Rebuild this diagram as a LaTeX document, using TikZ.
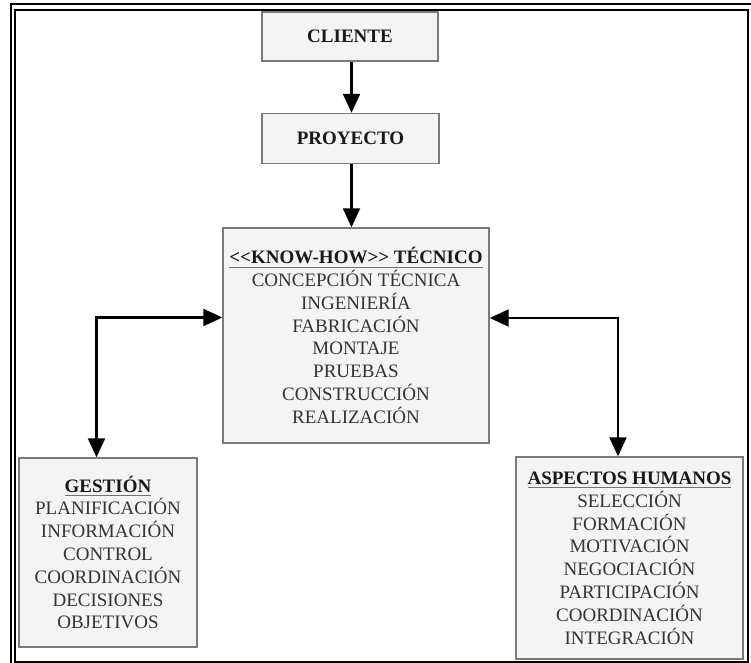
\documentclass[tikz,border=0pt]{standalone}
\usepackage{fontspec}
\setmainfont{Liberation Serif}
\usetikzlibrary{arrows.meta}
\definecolor{boxfill}{HTML}{F4F4F4}
\definecolor{boxedge}{HTML}{7A7A7A}
\definecolor{itemtext}{HTML}{333333}
% bold heading with a grey rule under it
\newcommand{\headline}[1]{\setbox0\hbox{\bfseries #1}\rlap{\color{black!55}\rule[-4bp]{\wd0}{1.1bp}}{\color{black!90}\box0}}
\newcommand{\boldlabel}[1]{{\color{black!90}\bfseries #1}}
\begin{document}
\begin{tikzpicture}[x=1bp,y=-1bp,
  box/.style={draw=boxedge, line width=1.4bp, fill=boxfill, align=center,
    inner sep=0pt, font=\fontsize{19bp}{22.8bp}\selectfont, text=itemtext},
  link/.style={line width=2.2bp, -{Triangle[length=19bp,width=17bp]}},
  both/.style={line width=2.2bp,
    {Triangle[length=19bp,width=17bp]}-{Triangle[length=19bp,width=17bp]}}]
\useasboundingbox (0,0) rectangle (751,663);

% double frame
\begin{scope}
  \clip (0,0) rectangle (751,663);
  \draw[line width=2bp] (11,4.5) rectangle (770,690);
  \draw[line width=2bp] (15,10.5) rectangle (747.5,662);
\end{scope}

% boxes
\node[box, minimum width=176bp, minimum height=49bp] (cli) at (350,36.5)
  {\boldlabel{CLIENTE}};
\node[box, minimum width=177bp, minimum height=50bp] (pro) at (350.5,138.5)
  {\boldlabel{PROYECTO}};
\node[box, minimum width=266bp, minimum height=215bp] (know) at (356,335.5)
  {\headline{<\kern0pt<KNOW-HOW>\kern0pt> TÉCNICO}\\
   CONCEPCIÓN TÉCNICA\\ INGENIERÍA\\ FABRICACIÓN\\ MONTAJE\\
   PRUEBAS\\ CONSTRUCCIÓN\\ REALIZACIÓN};
\node[box, minimum width=178bp, minimum height=189bp] (ges) at (108,552.5)
  {\headline{GESTIÓN}\\
   PLANIFICACIÓN\\ INFORMACIÓN\\ CONTROL\\ COORDINACIÓN\\
   DECISIONES\\ OBJETIVOS};
\node[box, minimum width=227bp, minimum height=202bp] (asp) at (629.5,558)
  {\headline{ASPECTOS HUMANOS}\\
   SELECCIÓN\\ FORMACIÓN\\ MOTIVACIÓN\\ NEGOCIACIÓN\\
   PARTICIPACIÓN\\ COORDINACIÓN\\ INTEGRACIÓN};

% connectors
\coordinate (axis) at (351.5,0);
\coordinate (lturn) at (96.5,317.5);
\coordinate (rturn) at (618,318);
\draw[link] (cli.south -| axis) -- (pro.north -| axis);
\draw[link] (pro.south -| axis) -- (know.north -| axis);
\draw[both] (ges.north -| lturn) |- (know.west |- lturn);
\draw[both] (asp.north -| rturn) |- (know.east |- rturn);
\end{tikzpicture}
\end{document}
